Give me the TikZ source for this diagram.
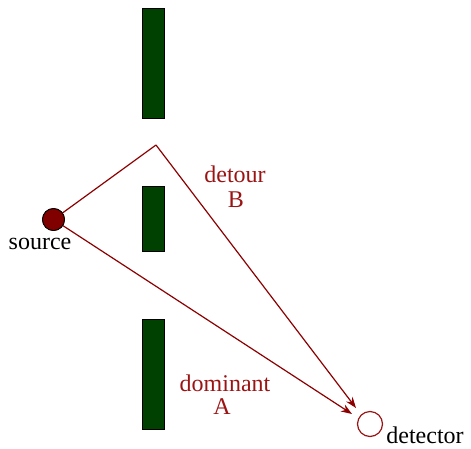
\documentclass[tikz,border=0pt]{standalone}
\usepackage{fontspec}
\setmainfont{Liberation Serif}
\usetikzlibrary{arrows.meta}
\definecolor{barg}{RGB}{0,64,0}
\definecolor{pathred}{RGB}{140,0,0}
\definecolor{txtred}{RGB}{155,20,20}
\definecolor{srcred}{RGB}{128,0,0}
\tikzset{
  bar/.style={draw=black, line width=0.8pt, fill=barg, minimum width=22pt, inner sep=0pt, anchor=north west},
  ray/.style={draw=pathred, line width=1.2pt},
  lbl/.style={text=txtred, font=\fontsize{24}{26}\selectfont, inner sep=0pt},
  plain/.style={text=black, font=\fontsize{24}{26}\selectfont, inner sep=0pt}
}
\begin{document}
\begin{tikzpicture}[x=1pt,y=-1pt]
\useasboundingbox (0,0) rectangle (471,448);
\node[bar, minimum height=110pt] (b1) at (142,8) {};
\node[bar, minimum height=65pt] (b2) at (142,186) {};
\node[bar, minimum height=110pt] (b3) at (142,319) {};
\node[circle, draw=black, line width=0.8pt, fill=srcred, minimum size=22pt, inner sep=0pt] (src) at (53.5,219.5) {};
\node[circle, draw=txtred, line width=1.2pt, minimum size=25pt, inner sep=0pt] (det) at (370,424) {};
\coordinate (apex) at (156,145);
\coordinate (tipB) at (356,408);
\coordinate (tipA) at (352,414);
\draw[ray] (src.center) -- (apex);
\draw[ray, -{Stealth[length=11pt,width=8pt]}] (apex) -- (tipB);
\draw[ray, -{Stealth[length=11pt,width=8pt]}] (src.center) -- (tipA);
\node[circle, draw=black, line width=0.8pt, fill=srcred, minimum size=22pt, inner sep=0pt] at (src) {};
\node[plain] (srclbl) at (40,244) {source};
\node[plain] (detlbl) at (425,435) {detector};
\node[lbl] (detour) at (235,174) {detour};
\node[lbl] (B) at (236,200) {B};
\node[lbl] (dominant) at (225,383) {dominant};
\node[lbl] (A) at (222,407) {A};
\end{tikzpicture}
\end{document}
